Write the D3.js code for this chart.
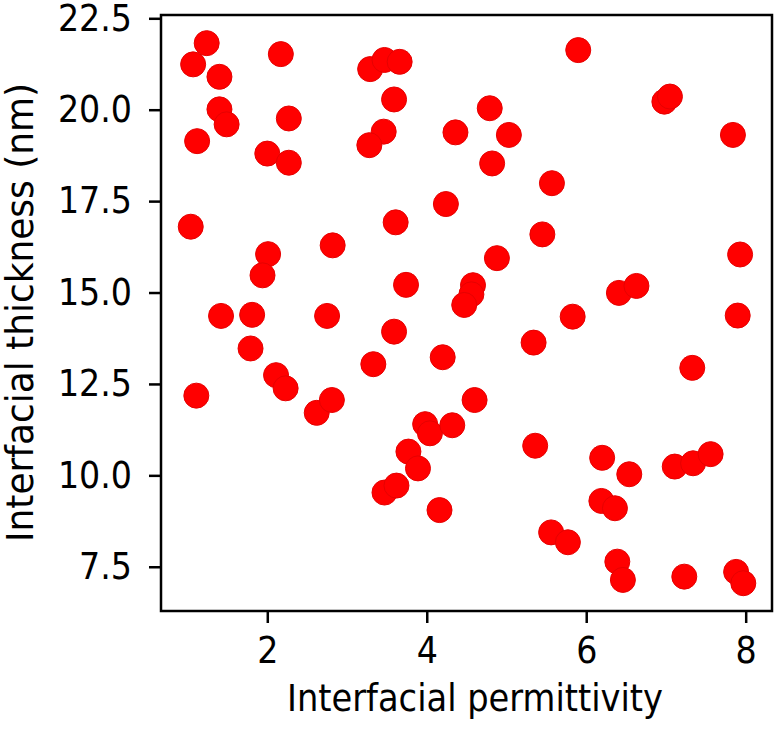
<!DOCTYPE html>
<html>
<head>
<meta charset="utf-8">
<script src="https://cdn.jsdelivr.net/npm/d3@7"></script>
<style>
  body { margin: 0; background: #fff; }
  text { font-family: "DejaVu Sans Condensed", "DejaVu Sans", sans-serif; font-stretch: condensed; }
</style>
</head>
<body>
<svg id="scatter"></svg>
<script>
// Data
var permittivity = [1.24, 1.07, 1.40, 2.17, 1.40, 1.49, 1.12, 2.27, 2.00, 2.27,
                    3.29, 3.47, 3.66, 3.59, 3.46, 3.28, 4.36, 1.04, 4.24, 3.61,
                    2.82, 2.01, 1.94, 3.74, 1.42, 1.81, 2.75, 5.90, 6.98, 7.05,
                    4.79, 5.03, 4.82, 7.84, 5.57, 5.45, 4.88, 7.93, 4.58, 4.56,
                    4.47, 6.41, 6.63, 5.83, 7.90, 1.79, 1.11, 2.11, 2.23, 2.62,
                    2.81, 3.59, 3.33, 4.20, 3.98, 4.04, 4.32, 3.77, 3.89, 3.47,
                    3.62, 4.16, 5.34, 7.33, 4.60, 5.36, 6.20, 6.54, 7.11, 7.34,
                    7.56, 6.19, 6.36, 5.56, 5.77, 6.39, 6.46, 7.23, 7.88, 7.97];
var thickness = [21.82, 21.24, 20.90, 21.52, 20.01, 19.60, 19.14, 19.76, 18.80, 18.55,
                 21.11, 21.36, 21.31, 20.28, 19.40, 19.03, 19.38, 16.80, 17.42, 16.92,
                 16.29, 16.05, 15.47, 15.21, 14.36, 14.39, 14.36, 21.63, 20.22, 20.36,
                 20.04, 19.31, 18.53, 19.31, 17.99, 16.59, 15.94, 16.04, 15.20, 14.95,
                 14.66, 14.99, 15.18, 14.34, 14.37, 13.47, 12.18, 12.74, 12.38, 11.71,
                 12.06, 13.93, 13.04, 13.23, 11.40, 11.15, 11.37, 10.65, 10.19, 9.53,
                 9.72, 9.05, 13.63, 12.94, 12.06, 10.81, 10.48, 10.03, 10.24, 10.33,
                 10.58, 9.30, 9.10, 8.44, 8.17, 7.64, 7.14, 7.23, 7.36, 7.05];
var xTicks = [2, 4, 6, 8];
var yTicks = [7.5, 10.0, 12.5, 15.0, 17.5, 20.0, 22.5];

var margin = {top: 15, right: 6, bottom: 121, left: 161},
    width = 778 - margin.left - margin.right,
    height = 732 - margin.top - margin.bottom;

var svg = d3.select("#scatter")
    .attr("width", 778)
    .attr("height", 732)
    .append("g")
    .attr("transform", "translate(" + margin.left + "," + margin.top + ")");

var x = d3.scaleLinear().domain([0.667, 8.33]).range([0, width]);
var y = d3.scaleLinear().domain([6.29, 22.59]).range([height, 0]);

// points
svg.selectAll("circle")
    .data(permittivity)
    .enter()
    .append("circle")
    .attr("cx", (d) => x(d))
    .attr("cy", (d, i) => y(thickness[i]))
    .attr("r", 12.5)
    .attr("fill", "#ff0000")
    .attr("stroke", "#e60000")
    .attr("stroke-width", 1);

// axes
var xAxis = svg.append("g")
    .attr("transform", "translate(0," + height + ")")
    .call(d3.axisBottom(x).tickValues(xTicks).tickSize(12).tickPadding(14).tickFormat(d3.format("d")));
var yAxis = svg.append("g")
    .call(d3.axisLeft(y).tickValues(yTicks).tickSize(12).tickPadding(17).tickFormat(d3.format(".1f")));

[xAxis, yAxis].forEach(function(a) {
    a.select(".domain").remove();
    a.selectAll("line").attr("stroke", "#000").attr("stroke-width", 2.5);
    a.selectAll("text").attr("font-size", 37).attr("fill", "#000");
});

// frame
svg.append("rect")
    .attr("width", width)
    .attr("height", height)
    .attr("fill", "none")
    .attr("stroke", "#000")
    .attr("stroke-width", 2.5);

// axis titles
svg.append("text")
    .attr("x", 475 - margin.left)
    .attr("y", 711 - margin.top)
    .style("text-anchor", "middle")
    .attr("font-size", 37)
    .attr("textLength", 376)
    .attr("lengthAdjust", "spacingAndGlyphs")
    .text("Interfacial permittivity");

svg.append("text")
    .attr("transform", "rotate(-90)")
    .attr("x", -(312.5 - margin.top))
    .attr("y", 33 - margin.left)
    .style("text-anchor", "middle")
    .attr("font-size", 37)
    .attr("textLength", 459)
    .attr("lengthAdjust", "spacingAndGlyphs")
    .text("Interfacial thickness (nm)");
</script>
</body>
</html>
